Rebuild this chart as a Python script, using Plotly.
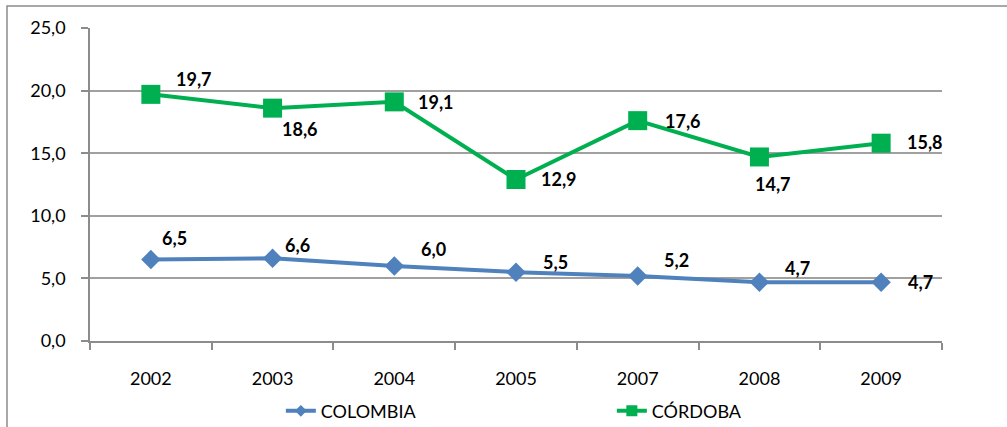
import plotly.graph_objects as go

years = ["2002", "2003", "2004", "2005", "2007", "2008", "2009"]
colombia = [6.5, 6.6, 6.0, 5.5, 5.2, 4.7, 4.7]
cordoba = [19.7, 18.6, 19.1, 12.9, 17.6, 14.7, 15.8]
y_ticks = [0, 5, 10, 15, 20, 25]

# label offsets (pixels) - style only
col_dx = [24, 25, 39, 39, 39, 38, 39]
col_dy = [22, 13, 17, 10, 16, 14, 0]
cor_dx = [43, 27, 42, 43, 45, 14, 44]
cor_dy = [15, -21, 0, 0, 0, -27, 1]

BLUE = "#4F81BD"
GREEN = "#00B050"
FONT = "Lato"
GRAY = "#8C8C8C"


def fmt(v):
    return f"{v:.1f}".replace(".", ",")


idx = list(range(len(years)))

fig = go.Figure()
fig.add_trace(go.Scatter(
    x=idx, y=colombia, name="COLOMBIA", mode="lines+markers",
    line=dict(color=BLUE, width=4),
    marker=dict(symbol="diamond", size=15, color=BLUE),
    showlegend=False,
))
fig.add_trace(go.Scatter(
    x=idx, y=cordoba, name="CÓRDOBA", mode="lines+markers",
    line=dict(color=GREEN, width=4),
    marker=dict(symbol="square", size=19, color=GREEN),
    showlegend=False,
))
# legend entries (smaller markers like the reference legend)
fig.add_trace(go.Scatter(
    x=[None], y=[None], name="COLOMBIA", mode="lines+markers",
    line=dict(color=BLUE, width=4),
    marker=dict(symbol="diamond", size=9, color=BLUE),
))
fig.add_trace(go.Scatter(
    x=[None], y=[None], name="CÓRDOBA", mode="lines+markers",
    line=dict(color=GREEN, width=4),
    marker=dict(symbol="square", size=11, color=GREEN),
))

for vals, dxs, dys in ((colombia, col_dx, col_dy), (cordoba, cor_dx, cor_dy)):
    for x, v, dx, dy in zip(idx, vals, dxs, dys):
        fig.add_annotation(
            x=x, y=v, text=f"<b>{fmt(v)}</b>", showarrow=False,
            xshift=dx, yshift=dy, xanchor="center", yanchor="middle",
            font=dict(family=FONT, size=18, color="black"),
        )

# outer frame
fig.add_shape(
    type="path", xref="paper", yref="paper",
    path="M -0.0974,-0.35 L -0.0974,1.0703 L 1.2,1.0703",
    line=dict(color=GRAY, width=1.5),
)

fig.update_layout(
    width=1007, height=427,
    margin=dict(l=90, r=65, t=28, b=86, autoexpand=False),
    paper_bgcolor="white", plot_bgcolor="white",
    font=dict(family=FONT, size=18, color="black"),
    showlegend=True,
    legend=dict(
        orientation="h", x=0.224, y=-0.224, xanchor="left", yanchor="middle",
        entrywidth=286, entrywidthmode="pixels",
        font=dict(family=FONT, size=18, color="black"),
        bgcolor="rgba(0,0,0,0)",
    ),
)
fig.update_xaxes(
    range=[-0.5, len(years) - 0.5],
    tickmode="array", tickvals=idx, ticktext=years, ticks="",
    minor=dict(tickmode="linear", tick0=-0.5, dtick=1, ticks="outside",
               ticklen=7, tickcolor=GRAY, tickwidth=1.5, showgrid=False),
    showline=True, linecolor=GRAY, linewidth=1.5, automargin=False,
    showgrid=False, zeroline=False, ticklabelstandoff=21,
    tickfont=dict(family=FONT, size=18),
)
fig.update_yaxes(
    range=[0, 25], tickmode="array", tickvals=y_ticks,
    ticktext=[fmt(v) for v in y_ticks],
    ticks="outside", ticklen=7, tickcolor=GRAY, tickwidth=1.5,
    showline=True, linecolor=GRAY, linewidth=1.5, automargin=False,
    showgrid=True, gridcolor="#A0A0A0", gridwidth=1.5,
    zeroline=False, ticklabelstandoff=12,
    tickfont=dict(family=FONT, size=18),
)

fig.write_html(
    "out.html",
    config={"displayModeBar": False},
    post_script="document.body.style.margin='0';document.body.style.overflow='hidden';",
)
